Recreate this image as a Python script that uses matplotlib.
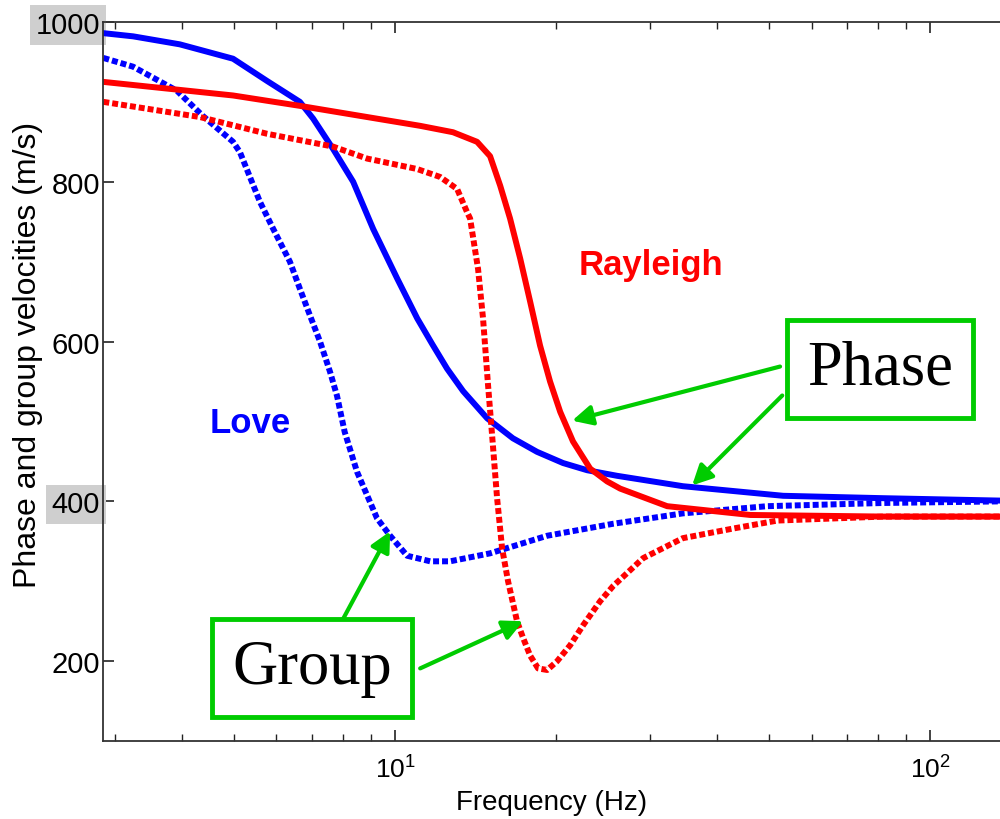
import matplotlib
matplotlib.use("Agg")
import matplotlib.pyplot as plt
from matplotlib.ticker import FixedLocator, LogLocator, NullFormatter

plt.rcParams['font.family'] = ['Liberation Sans', 'DejaVu Sans']
plt.rcParams['mathtext.default'] = 'regular'

# Love phase velocity (solid blue)
love_phase_f = [2.85, 3.24, 3.96, 4.98, 5.77, 6.64, 7.03, 7.66, 8.35, 9.10, 10.09, 11.0,
                11.73, 12.51, 13.4, 14.86, 16.6, 18.42, 20.6, 22.85, 26.0, 34.5, 53.1, 81.7, 135]
love_phase_v = [986, 982, 972, 954, 926, 900, 879, 841, 800, 741, 679, 629,
                597, 566, 538, 504, 479, 462, 448, 439, 432, 419, 407, 404, 401]

# Love group velocity (dotted blue)
love_group_f = [2.85, 3.24, 3.91, 4.38, 4.98, 5.13, 5.59, 5.92, 6.36, 6.64, 6.94, 7.24, 7.56,
                7.79, 8.05, 8.49, 9.25, 9.79, 10.53, 11.63, 12.67, 15.05, 19.24, 25.55, 34.5,
                49.6, 81.7, 135]
love_group_v = [955, 944, 914, 882, 850, 837, 775, 741, 700, 666, 632, 600, 562,
                532, 487, 437, 379, 357, 332, 325, 325, 335, 357, 372, 385,
                394, 398, 400]

# Rayleigh phase velocity (solid red)
ray_phase_f = [2.85, 4.98, 6.64, 8.87, 11.14, 12.83, 14.23, 15.05, 15.72, 16.4, 17.13, 17.88,
               18.66, 19.48, 20.35, 21.5, 23.15, 24.9, 26.34, 32.24, 46.1, 81.7, 135]
ray_phase_v = [925, 908, 895, 881, 870, 862, 850, 832, 795, 754, 704, 650,
               595, 550, 512, 475, 441, 425, 416, 394, 383, 381, 381]

# Rayleigh group velocity (dotted red)
ray_group_f = [2.85, 4.32, 5.77, 7.66, 8.87, 10.99, 12.14, 13.06, 13.63, 13.81, 14.29, 14.60,
               14.92, 15.18, 15.51, 15.85, 16.26, 16.9, 17.35, 17.88, 18.5, 19.24, 20.08,
               21.24, 22.46, 24.16, 25.55, 29.08, 34.5, 42.8, 51.8, 81.7, 135]
ray_group_v = [900, 881, 860, 844, 829, 816, 806, 791, 762, 754, 691, 629,
               545, 483, 404, 341, 300, 250, 229, 207, 191, 189, 200,
               220, 245, 275, 294, 329, 354, 366, 376, 381, 381]

y_ticks = [200, 400, 600, 800, 1000]
x_ticks = [10, 100]
x_ticklabels = ['$10^{1}$', '$10^{2}$']
highlighted_y = [400, 1000]

fig = plt.figure(figsize=(10, 8.2), dpi=100)
ax = fig.add_axes([0.103, 0.095, 0.897, 0.877])

lw = 4.3
ax.plot(love_phase_f, love_phase_v, color='#0000FF', lw=lw, solid_joinstyle='round')
ax.plot(love_group_f, love_group_v, color='#0000FF', lw=lw, linestyle=(0, (1.0, 0.5)),
        dash_capstyle='butt')
ax.plot(ray_phase_f, ray_phase_v, color='#FF0000', lw=lw, solid_joinstyle='round')
ax.plot(ray_group_f, ray_group_v, color='#FF0000', lw=lw, linestyle=(0, (1.0, 0.5)),
        dash_capstyle='butt')

ax.set_xscale('log')
ax.set_xlim(2.846, 135)
ax.set_ylim(100, 1000)

ax.xaxis.set_major_locator(FixedLocator(x_ticks))
ax.set_xticklabels(x_ticklabels)
ax.xaxis.set_minor_locator(LogLocator(base=10, subs=range(2, 10)))
ax.xaxis.set_minor_formatter(NullFormatter())
ax.set_yticks(y_ticks)
ax.set_yticklabels([str(t) for t in y_ticks])

ax.tick_params(axis='x', which='major', direction='in', length=8, width=1.2, top=True,
               labelsize=19, pad=10, colors='#222222', labelcolor='black')
ax.tick_params(axis='x', which='minor', direction='in', length=5, width=1.0, top=True,
               colors='#222222')
ax.tick_params(axis='y', which='major', direction='in', length=8, width=1.2, right=False,
               labelsize=21, pad=2, colors='#222222', labelcolor='black')

for side in ['left', 'bottom', 'top']:
    ax.spines[side].set_linewidth(1.3)
    ax.spines[side].set_color('#333333')
ax.spines['right'].set_visible(False)

for lab, t in zip(ax.get_yticklabels(), y_ticks):
    if t in highlighted_y:
        lab.set_bbox(dict(facecolor='#cfcfcf', edgecolor='none', pad=4))

ax.set_xlabel('Frequency (Hz)', fontsize=20, labelpad=5)
ax.set_ylabel('Phase and group velocities (m/s)', fontsize=23)
ax.yaxis.set_label_coords(-0.067, 0.538)

ax.text(30.1, 697, 'Rayleigh', color='#FF0000', fontsize=25, fontweight='bold',
        ha='center', va='center')
ax.text(5.36, 499, 'Love', color='#0000FF', fontsize=25, fontweight='bold',
        ha='center', va='center')

green = '#00CC00'
box = dict(boxstyle='square,pad=0.32', facecolor='white', edgecolor=green, linewidth=3.5)
ax.text(80.6, 566, 'Phase', family='Liberation Serif', fontsize=45, ha='center',
        va='center', bbox=box, zorder=5)
ax.text(7.0, 191, 'Group', family='Liberation Serif', fontsize=45, ha='center',
        va='center', bbox=box, zorder=5)

arrow = dict(arrowstyle='-|>', color=green, lw=3.0, mutation_scale=30,
             shrinkA=0, shrinkB=0)
ax.annotate('', xy=(21.42, 501), xytext=(52.4, 568.75), arrowprops=arrow, zorder=4)
ax.annotate('', xy=(35.9, 420), xytext=(52.9, 532.5), arrowprops=arrow, zorder=4)
ax.annotate('', xy=(9.79, 362.5), xytext=(7.99, 252.5), arrowprops=arrow, zorder=4)
ax.annotate('', xy=(17.35, 250), xytext=(11.14, 191), arrowprops=arrow, zorder=4)

fig.savefig('out.png', dpi=100)
